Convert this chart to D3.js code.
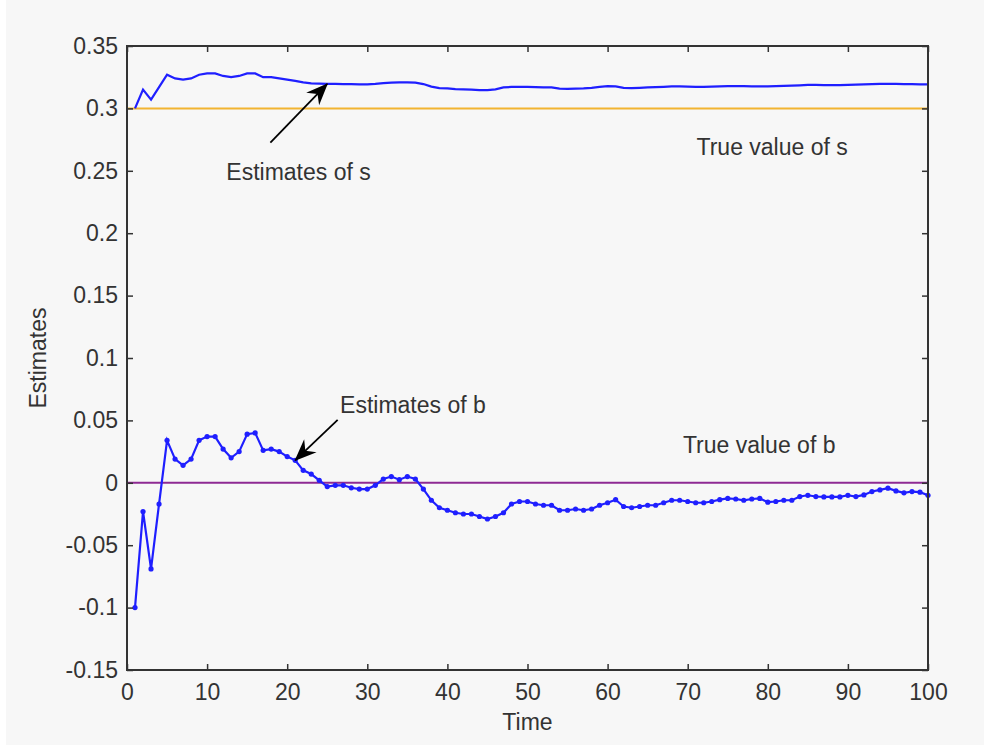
<!DOCTYPE html>
<html>
<head>
<meta charset="utf-8">
<script src="https://cdn.jsdelivr.net/npm/d3@7"></script>
<style>
  body { margin: 0; background: #ffffff; }
  svg text { font-family: "Liberation Sans", Arial, sans-serif; fill: #333; }
</style>
</head>
<body>
<div id="chart"></div>
<script>
// time steps 1..100
var time = d3.range(1, 101);

var sEstimates = [
  0.300, 0.315, 0.307, 0.317, 0.327, 0.324, 0.323, 0.324, 0.327, 0.328,
  0.328, 0.326, 0.325, 0.326, 0.328, 0.328, 0.325, 0.325, 0.324, 0.323,
  0.322, 0.3208, 0.320, 0.3198, 0.3196, 0.3196, 0.3195, 0.3195, 0.3193, 0.3193,
  0.3197, 0.3203, 0.3207, 0.3208, 0.3208, 0.3206, 0.3195, 0.3175, 0.3163, 0.316,
  0.3155, 0.3152, 0.315, 0.3146, 0.3146, 0.3152, 0.3168, 0.3172, 0.3172, 0.3172,
  0.317, 0.3168, 0.3168, 0.3158, 0.3156, 0.3158, 0.316, 0.3165, 0.3172, 0.3178,
  0.3176, 0.3165, 0.3162, 0.3165, 0.3168, 0.317, 0.3173, 0.3176, 0.3176, 0.3174,
  0.3172, 0.3172, 0.3174, 0.3176, 0.3178, 0.3179, 0.3178, 0.3176, 0.3176, 0.3176,
  0.3178, 0.318, 0.3182, 0.3185, 0.3188, 0.3188, 0.3187, 0.3186, 0.3187, 0.3188,
  0.319, 0.3192, 0.3195, 0.3197, 0.3197, 0.3196, 0.3195, 0.3194, 0.3193, 0.3192
];

var bEstimates = [
  -0.100, -0.023, -0.069, -0.017, 0.034, 0.019, 0.014, 0.019, 0.034, 0.037,
  0.037, 0.027, 0.020, 0.025, 0.039, 0.040, 0.026, 0.027, 0.025, 0.021,
  0.018, 0.010, 0.007, 0.002, -0.003, -0.002, -0.002, -0.004, -0.005, -0.005,
  -0.002, 0.003, 0.005, 0.0025, 0.005, 0.003, -0.005, -0.014, -0.020, -0.022,
  -0.024, -0.025, -0.025, -0.027, -0.029, -0.027, -0.024, -0.017, -0.015, -0.015,
  -0.017, -0.018, -0.018, -0.022, -0.022, -0.021, -0.022, -0.021, -0.018, -0.016,
  -0.0135, -0.019, -0.020, -0.019, -0.018, -0.018, -0.016, -0.014, -0.014, -0.015,
  -0.016, -0.016, -0.015, -0.0135, -0.0125, -0.013, -0.014, -0.013, -0.0125, -0.0155,
  -0.015, -0.014, -0.014, -0.011, -0.010, -0.011, -0.0113, -0.0113, -0.0113, -0.010,
  -0.011, -0.0097, -0.007, -0.0057, -0.0043, -0.0065, -0.008, -0.007, -0.0075, -0.010
];

var trueS = 0.3;
var trueB = 0;

var xTicks = [0, 10, 20, 30, 40, 50, 60, 70, 80, 90, 100];
var yTicks = [-0.15, -0.1, -0.05, 0, 0.05, 0.1, 0.15, 0.2, 0.25, 0.3, 0.35];
var yTickLabels = ['-0.15', '-0.1', '-0.05', '0', '0.05', '0.1', '0.15', '0.2', '0.25', '0.3', '0.35'];

// annotation text + arrow tail in data units, arrow tip sits on the series
var notes = [
  { label: 'Estimates of s', t: 12.4, v: 0.2427, tailT: 17.9, tailV: 0.2725, tipT: 25, series: 's' },
  { label: 'Estimates of b', t: 26.6, v: 0.056, tailT: 26.3, tailV: 0.0505, tipT: 21, series: 'b' }
];
var trueLabels = [
  { label: 'True value of s', t: 71.1, v: 0.2627 },
  { label: 'True value of b', t: 69.4, v: 0.0242 }
];

var width = 990;
var height = 745;
var margin = { top: 46, right: 62, bottom: 75, left: 127 };
var fontSize = '23px';

var svg = d3.select('#chart')
  .append('svg')
  .attr('width', width)
  .attr('height', height);

svg.append('rect')
  .attr('x', 6).attr('y', 0)
  .attr('width', width - 12).attr('height', height)
  .attr('fill', '#f7f7f7');

var x = d3.scaleLinear().domain([0, 100]).range([margin.left, width - margin.right]);
var y = d3.scaleLinear().domain([-0.15, 0.35]).range([height - margin.bottom, margin.top]);

svg.append('defs').append('marker')
  .attr('id', 'head')
  .attr('markerUnits', 'userSpaceOnUse')
  .attr('viewBox', '-24 -12 26 24')
  .attr('markerWidth', 26).attr('markerHeight', 24)
  .attr('refX', 0).attr('refY', 0)
  .attr('orient', 'auto')
  .append('path')
  .attr('d', 'M1,0 L-21,-9 L-14,0 L-21,9 Z')
  .attr('fill', '#000');

// true value lines
svg.append('line')
  .attr('x1', x(0)).attr('x2', x(100))
  .attr('y1', y(trueS)).attr('y2', y(trueS))
  .attr('stroke', '#f2b431').attr('stroke-width', 2);
svg.append('line')
  .attr('x1', x(0)).attr('x2', x(100))
  .attr('y1', y(trueB)).attr('y2', y(trueB))
  .attr('stroke', '#8e2a93').attr('stroke-width', 2);

var line = d3.line()
  .x(function(d) { return x(d[0]); })
  .y(function(d) { return y(d[1]); });

var sData = time.map(function(t, i) { return [t, sEstimates[i]]; });
var bData = time.map(function(t, i) { return [t, bEstimates[i]]; });

svg.append('path')
  .attr('d', line(sData))
  .attr('fill', 'none')
  .attr('stroke', '#1f1fff')
  .attr('stroke-width', 2.2);

svg.append('path')
  .attr('d', line(bData))
  .attr('fill', 'none')
  .attr('stroke', '#1f1fff')
  .attr('stroke-width', 2.2);

svg.selectAll('circle.b')
  .data(bData)
  .enter()
  .append('circle')
  .attr('class', 'b')
  .attr('cx', function(d) { return x(d[0]); })
  .attr('cy', function(d) { return y(d[1]); })
  .attr('r', 2.6)
  .attr('fill', '#1f1fff');

// axes, ticks pointing inward, mirrored on top/right
var axisColor = '#333';
function styleAxis(g) {
  g.select('.domain').remove();
  g.selectAll('.tick line').attr('stroke', axisColor).attr('stroke-width', 1.5);
  g.selectAll('.tick text').style('font-size', fontSize).attr('fill', '#333');
}

svg.append('g')
  .attr('transform', 'translate(0,' + y(-0.15) + ')')
  .call(d3.axisBottom(x).tickValues(xTicks).tickSizeInner(-6).tickSizeOuter(0).tickPadding(14))
  .call(styleAxis);

svg.append('g')
  .attr('transform', 'translate(0,' + y(0.35) + ')')
  .call(d3.axisTop(x).tickValues(xTicks).tickSizeInner(-6).tickSizeOuter(0).tickFormat(''))
  .call(styleAxis);

svg.append('g')
  .attr('transform', 'translate(' + x(0) + ',0)')
  .call(d3.axisLeft(y).tickValues(yTicks).tickSizeInner(-6).tickSizeOuter(0).tickPadding(9)
    .tickFormat(function(d, i) { return yTickLabels[i]; }))
  .call(styleAxis);

svg.append('g')
  .attr('transform', 'translate(' + x(100) + ',0)')
  .call(d3.axisRight(y).tickValues(yTicks).tickSizeInner(-6).tickSizeOuter(0).tickFormat(''))
  .call(styleAxis);

svg.append('rect')
  .attr('x', x(0)).attr('y', y(0.35))
  .attr('width', x(100) - x(0)).attr('height', y(-0.15) - y(0.35))
  .attr('fill', 'none')
  .attr('stroke', axisColor)
  .attr('stroke-width', 2);

// axis labels
svg.append('text')
  .attr('x', (x(0) + x(100)) / 2)
  .attr('y', 730)
  .attr('text-anchor', 'middle')
  .style('font-size', fontSize)
  .text('Time');

svg.append('text')
  .attr('transform', 'translate(46,' + y(0.1) + ') rotate(-90)')
  .attr('text-anchor', 'middle')
  .style('font-size', fontSize)
  .text('Estimates');

// annotations
notes.forEach(function(n) {
  var series = n.series === 's' ? sEstimates : bEstimates;
  var tipV = series[time.indexOf(n.tipT)];
  svg.append('line')
    .attr('x1', x(n.tailT)).attr('y1', y(n.tailV))
    .attr('x2', x(n.tipT)).attr('y2', y(tipV))
    .attr('stroke', '#000').attr('stroke-width', 1.8)
    .attr('marker-end', 'url(#head)');
  svg.append('text')
    .attr('x', x(n.t)).attr('y', y(n.v))
    .style('font-size', fontSize)
    .text(n.label);
});

trueLabels.forEach(function(n) {
  svg.append('text')
    .attr('x', x(n.t)).attr('y', y(n.v))
    .style('font-size', fontSize)
    .text(n.label);
});
</script>
</body>
</html>
